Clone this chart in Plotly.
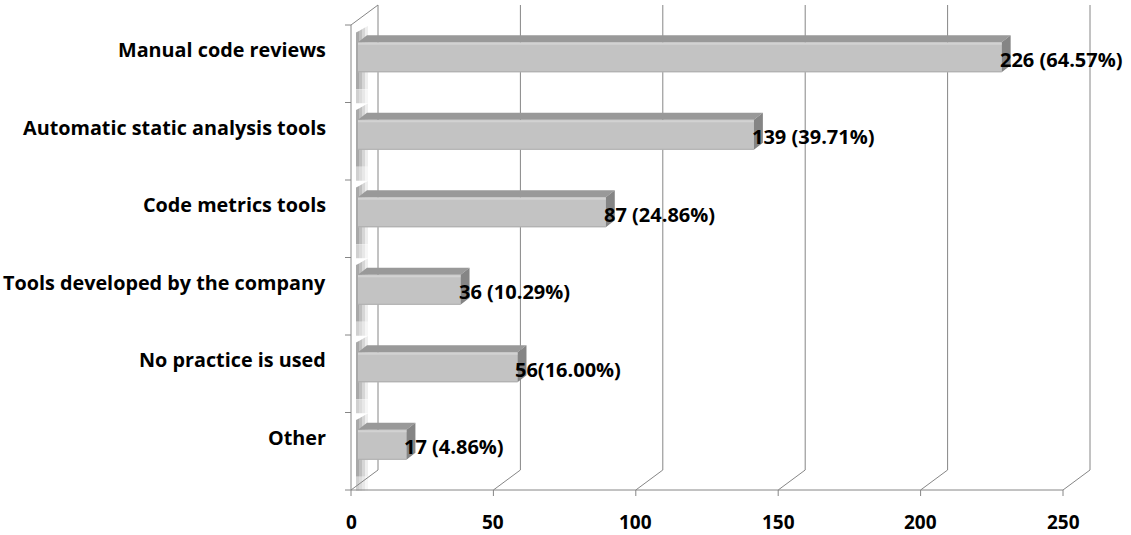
import plotly.graph_objects as go

categories = ["Manual code reviews", "Automatic static analysis tools", "Code metrics tools",
              "Tools developed by the company", "No practice is used", "Other"]
values = [226, 139, 87, 36, 56, 17]
value_labels = ["226 (64.57%)", "139 (39.71%)", "87 (24.86%)", "36 (10.29%)", "56(16.00%)", "17 (4.86%)"]
x_ticks = [0, 50, 100, 150, 200, 250]

# ---- geometry (page pixels -> axis units) ----
W, H = 1131, 535
X0PX, X250PX = 351, 1063
SX = (X250PX - X0PX) / 250.0          # px per value unit
CAT_TOP_PX, CAT_STEP = 25, 77.5       # front plane top, px per category
SY = CAT_STEP
n = len(categories)
xr = [-X0PX / SX, (W - X0PX) / SX]
yr = [-0.5 + (H - CAT_TOP_PX) / SY, -0.5 - CAT_TOP_PX / SY]

DX, DY = 27 / SX, -20 / SY            # wall depth
FX, FY = 7 / SX, -6.5 / SY            # bar front face offset
BDX, BDY = 9 / SX, -7 / SY            # bar depth
HH = 15 / SY                          # bar half height
YB = n - 0.5                          # floor (front)
YT = -0.5                             # top (front)

GRID = "#868686"
FONT = "Open Sans"

fig = go.Figure()

def line(xs, ys, color=GRID, w=1):
    fig.add_trace(go.Scatter(x=xs, y=ys, mode="lines", line=dict(color=color, width=w),
                             hoverinfo="skip", showlegend=False))

def poly(xs, ys, col):
    fig.add_trace(go.Scatter(x=xs, y=ys, fill="toself", mode="none", fillcolor=col,
                             hoverinfo="skip", showlegend=False))

# left wall shading strips (bands of grey fading to white)
bands = [(5, 8, "#A8A8A8", "#D0D0D0"), (8, 11, "#BEBEBE", "#DCDCDC"),
         (11, 14, "#D6D6D6", "#E8E8E8"), (14, 17, "#EEEEEE", "#F6F6F6")]
for i in range(n):
    yc = i + FY
    y0, ym, y1 = yc - HH - 0.21, yc + HH + 0.22, yc + HH + 0.4
    for (a, b, col, col2) in bands:
        x0, x1 = a / SX, b / SX
        ya, yb_ = y0 + 0.12 * (1 - a / 17), y0 + 0.12 * (1 - b / 17)
        poly([x0, x1, x1, x0, x0], [ya, yb_, ym, ym, ya], col)
        poly([x0, x1, x1, x0, x0], [ym, ym, y1, y1, ym], col2)

# back wall gridlines and floor diagonals
for t in x_ticks:
    line([t + DX, t + DX], [YB + DY, YT + DY])
    line([t, t + DX], [YB, YB + DY])
    line([t, t], [YB, YB + 6 / SY])
# front baseline, left wall front edge, top diagonal
line([0, 250], [YB, YB])
line([0, 0], [YT, YB])
line([0, DX], [YT, YT + DY])
for k in range(n + 1):
    line([-6 / SX, 0], [k - 0.5, k - 0.5])

# bars: front, top and side faces
fx_, fy_, tx, ty, sx_, sy_ = [], [], [], [], [], []
hx, hy, lx, ly = [], [], [], []
for i, v in enumerate(values):
    yt = i + FY - HH
    yb = i + FY + HH
    xa, xb = FX, FX + v
    fx_ += [xa, xb, xb, xa, xa, None]
    fy_ += [yt, yt, yb, yb, yt, None]
    tx += [xa, xb, xb + BDX, xa + BDX, xa, None]
    ty += [yt, yt, yt + BDY, yt + BDY, yt, None]
    sx_ += [xb, xb + BDX, xb + BDX, xb, xb, None]
    sy_ += [yt, yt + BDY, yb + BDY, yb, yt, None]
    hx += [xa, xb, None]
    hy += [yt + 1.5 / SY, yt + 1.5 / SY, None]
    lx += [xa, xb, None]
    ly += [yb - 0.5 / SY, yb - 0.5 / SY, None]
poly(fx_, fy_, "#C3C3C3")
poly(tx, ty, "#999999")
poly(sx_, sy_, "#858585")
line(hx, hy, "#D2D2D2", 2)
line(lx, ly, "#ADADAD", 1)

annotations = []
for i, (c, v, lab) in enumerate(zip(categories, values, value_labels)):
    annotations.append(dict(x=0, y=i, xref="x", yref="y", text="<b>%s</b>" % c, showarrow=False,
                            xanchor="right", yanchor="middle", xshift=-23, yshift=14,
                            font=dict(family=FONT, size=19.8, color="black")))
    annotations.append(dict(x=FX + v, y=i + FY, xref="x", yref="y", text="<b>%s</b>" % lab, showarrow=False,
                            xanchor="left", yanchor="middle", xshift=-4, yshift=-2,
                            font=dict(family=FONT, size=20, color="black")))
for t in x_ticks:
    annotations.append(dict(x=t, y=YB, xref="x", yref="y", text="<b>%d</b>" % t, showarrow=False,
                            xanchor="center", yanchor="middle", yshift=-32,
                            font=dict(family=FONT, size=19, color="black")))

fig.update_layout(
    width=W, height=H, autosize=False,
    margin=dict(l=0, r=0, t=0, b=0, pad=0),
    plot_bgcolor="white", paper_bgcolor="white",
    xaxis=dict(range=xr, visible=False, fixedrange=True),
    yaxis=dict(range=yr, visible=False, fixedrange=True),
    annotations=annotations,
    showlegend=False,
)

fig.write_html("out.html", config={"displayModeBar": False},
               post_script="document.body.style.margin='0';document.body.style.overflow='hidden';")
